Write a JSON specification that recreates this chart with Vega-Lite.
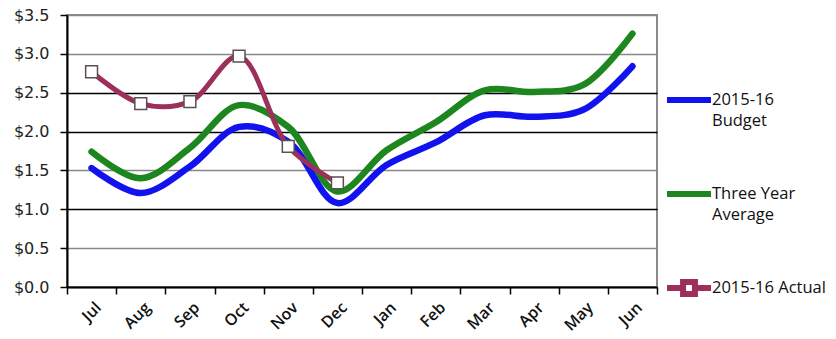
{
  "$schema": "https://vega.github.io/schema/vega-lite/v6.json",
  "autosize": {"type": "none"},
  "width": 590,
  "height": 272,
  "padding": {"left": 67, "top": 15, "right": 179, "bottom": 52},
  "background": "white",
  "config": {
    "font": "DejaVu Sans",
    "view": {"stroke": "#8a8a8a", "strokeWidth": 2}
  },
  "data": {
    "values": [
      {"month": "Jul", "series": "2015-16 Budget", "value": 1.53},
      {"month": "Aug", "series": "2015-16 Budget", "value": 1.21},
      {"month": "Sep", "series": "2015-16 Budget", "value": 1.55},
      {"month": "Oct", "series": "2015-16 Budget", "value": 2.06},
      {"month": "Nov", "series": "2015-16 Budget", "value": 1.87},
      {"month": "Dec", "series": "2015-16 Budget", "value": 1.08},
      {"month": "Jan", "series": "2015-16 Budget", "value": 1.57},
      {"month": "Feb", "series": "2015-16 Budget", "value": 1.86},
      {"month": "Mar", "series": "2015-16 Budget", "value": 2.21},
      {"month": "Apr", "series": "2015-16 Budget", "value": 2.19},
      {"month": "May", "series": "2015-16 Budget", "value": 2.28},
      {"month": "Jun", "series": "2015-16 Budget", "value": 2.84},
      {"month": "Jul", "series": "Three Year Average", "value": 1.74},
      {"month": "Aug", "series": "Three Year Average", "value": 1.40},
      {"month": "Sep", "series": "Three Year Average", "value": 1.79},
      {"month": "Oct", "series": "Three Year Average", "value": 2.34},
      {"month": "Nov", "series": "Three Year Average", "value": 2.06},
      {"month": "Dec", "series": "Three Year Average", "value": 1.23},
      {"month": "Jan", "series": "Three Year Average", "value": 1.76},
      {"month": "Feb", "series": "Three Year Average", "value": 2.12},
      {"month": "Mar", "series": "Three Year Average", "value": 2.53},
      {"month": "Apr", "series": "Three Year Average", "value": 2.51},
      {"month": "May", "series": "Three Year Average", "value": 2.60},
      {"month": "Jun", "series": "Three Year Average", "value": 3.26},
      {"month": "Jul", "series": "2015-16 Actual", "value": 2.77},
      {"month": "Aug", "series": "2015-16 Actual", "value": 2.36},
      {"month": "Sep", "series": "2015-16 Actual", "value": 2.385},
      {"month": "Oct", "series": "2015-16 Actual", "value": 2.97},
      {"month": "Nov", "series": "2015-16 Actual", "value": 1.81},
      {"month": "Dec", "series": "2015-16 Actual", "value": 1.34}
    ]
  },
  "encoding": {
    "x": {
      "field": "month",
      "type": "nominal",
      "sort": ["Jul", "Aug", "Sep", "Oct", "Nov", "Dec", "Jan", "Feb", "Mar", "Apr", "May", "Jun"],
      "scale": {"paddingInner": 0, "paddingOuter": 0},
      "axis": {
        "title": null,
        "labelAngle": -45,
        "labelFont": "Open Sans",
        "labelFontWeight": 600,
        "labelFontSize": 16,
        "labelColor": "#111",
        "labelPadding": 5,
        "labelOffset": 1,
        "tickBand": "extent",
        "tickSize": 7,
        "tickColor": "#000",
        "tickWidth": 1.5,
        "domainColor": "#000",
        "domainWidth": 2,
        "grid": false
      }
    },
    "y": {
      "field": "value",
      "type": "quantitative",
      "scale": {"domain": [0, 3.5], "nice": false},
      "axis": {
        "title": null,
        "values": [0, 0.5, 1, 1.5, 2, 2.5, 3, 3.5],
        "format": "$.1f",
        "labelFontSize": 16,
        "labelColor": "#222",
        "labelPadding": 11,
        "tickSize": 7,
        "tickColor": "#000",
        "tickWidth": 1.5,
        "domainColor": "#000",
        "domainWidth": 2,
        "grid": true,
        "gridColor": {"condition": {"test": "datum.value == 2.5 || datum.value == 2 || datum.value == 1", "value": "#000"}, "value": "#888"},
        "gridWidth": 1.5,
        "gridOpacity": 1
      }
    }
  },
  "layer": [
    {
      "transform": [{"filter": "datum.series == 'Three Year Average'"}],
      "mark": {"type": "line", "interpolate": "catmull-rom", "strokeWidth": 6.5, "strokeCap": "round"},
      "encoding": {
        "color": {
          "field": "series",
          "type": "nominal",
          "scale": {
            "domain": ["2015-16 Budget", "Three Year Average", "2015-16 Actual"],
            "range": ["#1212ee", "#1e861e", "#9c2f5c"]
          },
          "legend": {
            "orient": "none",
            "legendX": 597,
            "legendY": 60,
            "title": null,
            "symbolType": "M-1,0H1",
            "symbolSize": 1936,
            "symbolStrokeWidth": 6,
            "symbolFillColor": "transparent",
            "labelFont": "Open Sans",
            "labelFontSize": 16.5,
            "labelColor": "#111",
            "labelOffset": -2,
            "labelLimit": 200,
            "labelBaseline": "middle",
            "rowPadding": 39,
            "labelExpr": "datum.label == '2015-16 Budget' ? ['2015-16', 'Budget'] : datum.label == 'Three Year Average' ? ['Three Year', 'Average'] : datum.label",
            "encode": {
              "labels": {
                "update": {"lineHeight": {"value": 21}}
              },
              "symbols": {
                "update": {
                  "shape": {"signal": "datum.value == '2015-16 Actual' ? 'M-1,0H-0.27M0.27,0H1M-0.27,-0.27H0.27V0.27H-0.27Z' : 'M-1,0H1'"},
                  "fill": {"signal": "datum.value == '2015-16 Actual' ? 'white' : 'transparent'"}
                }
              }
            }
          }
        }
      }
    },
    {
      "transform": [{"filter": "datum.series == '2015-16 Budget'"}],
      "mark": {"type": "line", "interpolate": "catmull-rom", "strokeWidth": 6.5, "strokeCap": "round"},
      "encoding": {"color": {"field": "series", "type": "nominal"}}
    },
    {
      "transform": [{"filter": "datum.series == '2015-16 Actual'"}],
      "mark": {"type": "line", "interpolate": "catmull-rom", "strokeWidth": 5, "strokeCap": "round"},
      "encoding": {"color": {"field": "series", "type": "nominal"}}
    },
    {
      "transform": [{"filter": "datum.series == '2015-16 Actual'"}],
      "mark": {"type": "point", "shape": "square", "size": 140, "filled": false, "fill": "white", "fillOpacity": 1, "stroke": "#5a5050", "strokeWidth": 1.5, "opacity": 1},
      "encoding": {}
    }
  ]
}
